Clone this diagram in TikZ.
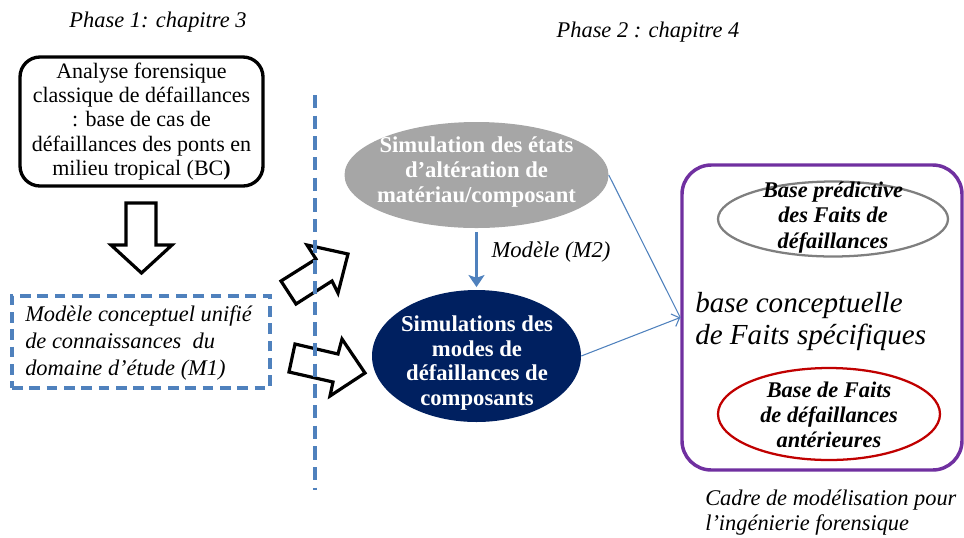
\documentclass[tikz,border=0pt]{standalone}
\usepackage{fontspec}
\setmainfont{Liberation Serif}
\usetikzlibrary{shapes.geometric,arrows.meta}
\definecolor{ablue}{HTML}{4F81BD}
\definecolor{agray}{HTML}{A6A6A6}
\definecolor{anavy}{HTML}{002060}
\definecolor{apurple}{HTML}{7030A0}
\definecolor{ared}{HTML}{C00000}
\definecolor{aoutline}{HTML}{7F7F7F}
\tikzset{
  txt/.style={inner sep=0pt, align=center},
  bcbox/.style={draw=black, line width=2.5pt, rounded corners=15pt, minimum width=182.25pt, minimum height=96.75pt, inner sep=0pt, align=center, font=\fontsize{16.5}{18.2}\selectfont},
  mbox/.style={draw=ablue, line width=2.7pt, dash pattern=on 8pt off 5pt, minimum width=193.5pt, minimum height=69pt, inner sep=0pt},
  vdash/.style={draw=ablue, line width=2.7pt, dash pattern=on 10pt off 5.5pt},
  blockarrow/.style={draw=black, fill=white, line width=2.4pt, line join=miter},
  ell/.style={ellipse, inner sep=0pt},
  whitebold/.style={txt, text=white, font=\bfseries\fontsize{17}{18.6}\selectfont},
  blackbi/.style={txt, text=black, font=\bfseries\itshape\fontsize{16.8}{19}\selectfont},
  thinconn/.style={draw=ablue, line width=0.8pt},
  thickconn/.style={draw=ablue, line width=2.5pt, -{Stealth[length=9pt,width=12pt,inset=2pt]}},
  frame/.style={draw=apurple, line width=2.6pt, rounded corners=22pt, minimum width=210pt, minimum height=228.75pt, inner sep=0pt}
}
\begin{document}
\begin{tikzpicture}[x=0.75pt,y=-0.75pt]
\useasboundingbox (0,0) rectangle (964,537);

% titles
\node[txt, font=\itshape\fontsize{16.8}{18}\selectfont] (ph1) at (158,22) {Phase 1: chapitre 3};
\node[txt, font=\itshape\fontsize{16.8}{18}\selectfont] (ph2) at (648,32) {Phase 2 : chapitre 4};

% BC box
\node[bcbox] (bc) at (141.5,121.5) {Analyse forensique\\classique de défaillances\\: base de cas de\\défaillances des ponts en\\milieu tropical (BC\textbf{)}};

% down block arrow
\draw[blockarrow] (126,203) -- (156,203) -- (156,245) -- (172,245) -- (141.5,273) -- (111,245) -- (126,245) -- cycle;

% M1 box
\node[mbox] (m1) at (141,342) {};
\node[txt, align=left, anchor=west, font=\itshape\fontsize{16.8}{20}\selectfont] (m1t) at (25,343) {Modèle conceptuel unifié\\de connaissances~~du\\domaine d’étude (M1)};

% block arrows to the right
\draw[blockarrow] (348,254) -- (338,293) -- (332,281) -- (296,304) -- (281,281) -- (316,259) -- (307,245) -- cycle;
\draw[blockarrow] (295,344) -- (338,354) -- (342,339) -- (365,373) -- (330,396) -- (333,382) -- (289,372) -- cycle;

% vertical dashed separator
\coordinate (vtop) at (315,95);
\coordinate (vbot) at (315,490);
\draw[vdash] (vtop) -- (vbot);

% ellipses phase 2
\node[ell, fill=agray, minimum width=198pt, minimum height=79.5pt] (sim) at (476.5,175) {};
\node[whitebold] (simt) at (476.5,172) {Simulation des états\\d’altération de\\matériau/composant};
\node[ell, fill=anavy, minimum width=156.75pt, minimum height=99pt] (nav) at (476.5,356) {};
\node[whitebold] (navt) at (477,363) {Simulations des\\modes de\\défaillances de\\composants};

\draw[thickconn, shorten <=3pt, shorten >=2pt] (sim.south) -- (nav.north);
\node[txt, font=\itshape\fontsize{17}{18}\selectfont] (m2) at (551,252) {Modèle (M2)};

% purple frame
\node[frame] (fr) at (822,317.5) {};
\node[ell, draw=aoutline, line width=1.7pt, minimum width=172.5pt, minimum height=56.25pt] (pred) at (833,219) {};
\node[blackbi] (predt) at (833,217.5) {Base prédictive\\des Faits de\\défaillances};
\node[ell, draw=ared, line width=1.7pt, minimum width=166.5pt, minimum height=69pt] (ant) at (829,414) {};
\node[blackbi] (antt) at (829,415) {Base de Faits\\de défaillances\\antérieures};
\node[txt, align=left, anchor=west, font=\itshape\fontsize{21.8}{24}\selectfont] (bct) at (695,321) {base conceptuelle\\de Faits spécifiques};

% thin connectors
\draw[thinconn] (sim.east) -- (fr.west);
\draw[thinconn, -{Straight Barb[length=5pt,width=10pt]}] (nav.east) -- (fr.west);

% caption
\node[txt, align=left, anchor=west, font=\itshape\fontsize{16.8}{18.75}\selectfont] (cap) at (705,512.5) {Cadre de modélisation pour\\l’ingénierie forensique};
\end{tikzpicture}
\end{document}
